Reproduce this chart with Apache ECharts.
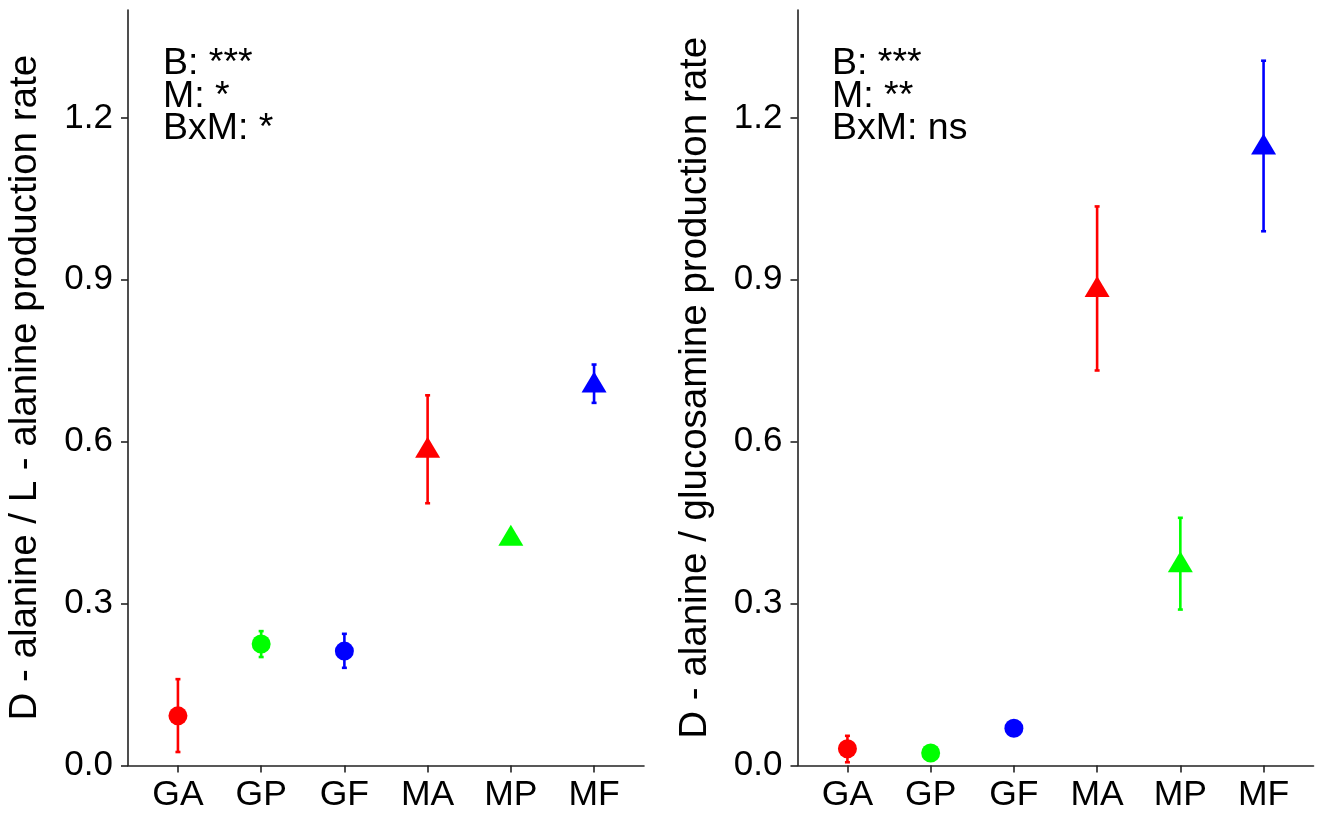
<!DOCTYPE html>
<html>
<head>
<meta charset="utf-8">
<script src="https://cdn.jsdelivr.net/npm/echarts@6/dist/echarts.min.js"></script>
<style>
html,body{margin:0;padding:0;background:#fff;}
#chart{width:1321px;height:818px;}
</style>
</head>
<body>
<div id="chart"></div>
<script>
// ---- data ----
const categories = ['GA', 'GP', 'GF', 'MA', 'MP', 'MF'];
const colors = ['#FF0000', '#00FF00', '#0000FF', '#FF0000', '#00FF00', '#0000FF'];
const shapes = ['circle', 'circle', 'circle', 'triangle', 'triangle', 'triangle'];
const yTicks = [0, 0.3, 0.6, 0.9, 1.2];

const leftMean = [0.092, 0.225, 0.212, 0.586, 0.423, 0.707];
const leftLow  = [0.025, 0.201, 0.181, 0.486, 0.413, 0.672];
const leftHigh = [0.160, 0.249, 0.244, 0.686, 0.433, 0.743];
const leftTitle = 'D - alanine / L - alanine production rate';
const leftNotes = ['B: ***', 'M: *', 'BxM: *'];

const rightMean = [0.031, 0.023, 0.069, 0.884, 0.374, 1.148];
const rightLow  = [0.006, 0.015, 0.062, 0.732, 0.289, 0.990];
const rightHigh = [0.055, 0.031, 0.076, 1.036, 0.459, 1.306];
const rightTitle = 'D - alanine / glucosamine production rate';
const rightNotes = ['B: ***', 'M: **', 'BxM: ns'];

// ---- chart ----
const FONT = 'Liberation Sans, Arial, sans-serif';
const AXIS_COLOR = '#222';
const xPos = categories.map((c, i) => i + 1);

function makeAxes(gridIndex, title) {
  const xAxis = {
    gridIndex, type: 'value', min: 0.4, max: 6.6,
    axisLine: {show: true, lineStyle: {color: AXIS_COLOR, width: 1.6}},
    axisTick: {show: true, customValues: xPos, length: 7, lineStyle: {color: AXIS_COLOR, width: 1.6}},
    axisLabel: {customValues: xPos, margin: 12, color: '#000', fontSize: 35.5, fontFamily: FONT,
      formatter: v => categories[Math.round(v) - 1] || ''},
    splitLine: {show: false}
  };
  const yAxis = {
    gridIndex, type: 'value', min: 0, max: 1.4,
    name: title, nameLocation: 'middle', nameRotate: 90, nameGap: 83,
    nameTextStyle: {color: '#000', fontSize: 38.5, fontFamily: FONT},
    axisLine: {show: true, lineStyle: {color: AXIS_COLOR, width: 1.6}},
    axisTick: {show: true, customValues: yTicks, length: 7, lineStyle: {color: AXIS_COLOR, width: 1.6}},
    axisLabel: {customValues: yTicks, margin: 15, color: '#000', fontSize: 35, fontFamily: FONT,
      formatter: v => v.toFixed(1)},
    splitLine: {show: false}
  };
  return {xAxis, yAxis};
}

function errSeries(idx, low, high) {
  return {
    type: 'custom', xAxisIndex: idx, yAxisIndex: idx, z: 2,
    data: xPos.map((x, i) => [x, low[i], high[i], i]),
    renderItem: (params, api) => {
      const x = api.value(0);
      const p1 = api.coord([x, api.value(1)]);
      const p2 = api.coord([x, api.value(2)]);
      const c = colors[api.value(3)];
      const cap = 2.5;
      const style = {stroke: c, lineWidth: 2.6};
      return {type: 'group', children: [
        {type: 'line', shape: {x1: p1[0], y1: p1[1], x2: p2[0], y2: p2[1]}, style},
        {type: 'line', shape: {x1: p1[0] - cap, y1: p1[1], x2: p1[0] + cap, y2: p1[1]}, style},
        {type: 'line', shape: {x1: p2[0] - cap, y1: p2[1], x2: p2[0] + cap, y2: p2[1]}, style}
      ]};
    }
  };
}

function pointSeries(idx, mean) {
  return {
    type: 'scatter', xAxisIndex: idx, yAxisIndex: idx, z: 3,
    data: xPos.map((x, i) => ({
      value: [x, mean[i]],
      symbol: shapes[i],
      symbolSize: shapes[i] === 'circle' ? 19 : [25, 21],
      symbolOffset: shapes[i] === 'circle' ? [0, 0] : [0, -2],
      itemStyle: {color: colors[i], opacity: 1}
    })),
    emphasis: {disabled: true}
  };
}

const a0 = makeAxes(0, leftTitle);
const a1 = makeAxes(1, rightTitle);

const option = {
  animation: false,
  backgroundColor: '#fff',
  grid: [
    {left: 128, top: 10, width: 516, height: 755.5},
    {left: 797.5, top: 10, width: 516, height: 755.5}
  ],
  xAxis: [a0.xAxis, a1.xAxis],
  yAxis: [a0.yAxis, a1.yAxis],
  series: [
    errSeries(0, leftLow, leftHigh), pointSeries(0, leftMean),
    errSeries(1, rightLow, rightHigh), pointSeries(1, rightMean)
  ],
  graphic: [
    {type: 'text', left: 163, top: 45, z: 10,
     style: {text: leftNotes.join('\n'), fontSize: 37.5, lineHeight: 32.5, fontFamily: FONT, fill: '#000'}},
    {type: 'text', left: 832, top: 45, z: 10,
     style: {text: rightNotes.join('\n'), fontSize: 37.5, lineHeight: 32.5, fontFamily: FONT, fill: '#000'}}
  ]
};

const chart = echarts.init(document.getElementById('chart'), null, {renderer: 'canvas'});
chart.setOption(option);
</script>
</body>
</html>
